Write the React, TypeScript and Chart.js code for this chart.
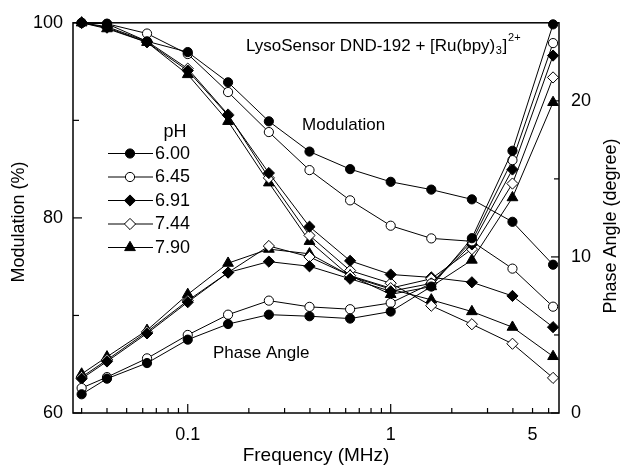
import React, { useEffect, useRef } from 'react';
import { Chart, registerables } from 'chart.js';
import { drawPoint } from 'chart.js/helpers';

Chart.register(...registerables);

// Frequency (MHz)
const frequencies = [0.03, 0.04, 0.063, 0.1, 0.158, 0.251, 0.398, 0.631, 1.0, 1.585, 2.512, 3.981, 6.31];
const phLabels = ['6.00', '6.45', '6.91', '7.44', '7.90'];

// Modulation (%)
const mod600 = [100, 99.9, 98.1, 97.0, 93.9, 89.9, 86.8, 85.0, 83.7, 82.9, 81.9, 79.6, 75.2];
const mod645 = [100, 99.9, 98.9, 96.8, 92.9, 88.8, 84.9, 81.8, 79.2, 77.9, 77.6, 74.8, 70.9];
const mod691 = [100, 99.5, 98.0, 95.1, 90.5, 84.6, 79.1, 75.6, 74.2, 73.9, 73.4, 72.0, 68.8];
const mod744 = [100, 99.6, 98.1, 95.3, 90.6, 84.1, 78.2, 74.6, 73.3, 71.0, 69.1, 67.1, 63.6];
const mod790 = [100, 99.4, 98.0, 94.7, 89.9, 83.6, 77.6, 74.0, 72.7, 71.6, 70.4, 68.8, 65.8];

// Phase angle (degree)
const ph600 = [1.2, 2.2, 3.2, 4.7, 5.7, 6.3, 6.2, 6.05, 6.5, 8.1, 11.2, 16.8, 24.9];
const ph645 = [1.6, 2.3, 3.5, 5.0, 6.3, 7.2, 6.8, 6.65, 7.05, 8.3, 11.0, 16.2, 23.7];
const ph691 = [2.2, 3.3, 5.1, 7.1, 9.0, 9.7, 9.4, 8.6, 7.8, 8.3, 10.8, 15.6, 22.9];
const ph744 = [2.3, 3.4, 5.2, 7.2, 9.0, 10.7, 10.0, 8.8, 8.0, 8.6, 10.5, 14.7, 21.5];
const ph790 = [2.5, 3.6, 5.3, 7.6, 9.6, 10.5, 10.2, 8.8, 7.6, 8.1, 9.8, 13.8, 19.9];

const modSeries = [mod600, mod645, mod691, mod744, mod790];
const phaseSeries = [ph600, ph645, ph691, ph744, ph790];

const xTickValues = [0.1, 1, 5];
const leftTickValues = [60, 80, 100];
const rightTickValues = [0, 10, 20];
const xMinorTicks = [0.03, 0.04, 0.05, 0.06, 0.07, 0.08, 0.09, 0.2, 0.3, 0.4, 0.5, 0.6, 0.7, 0.8, 0.9, 2, 3, 4, 5, 6];
const leftMinorTicks = [70, 90];
const rightMinorTicks = [5, 15, 25];

const FONT = "'Liberation Sans', Arial, Helvetica, sans-serif";

const markerStyles = [
  { pointStyle: 'circle', fill: '#000000', radius: 4.6 },
  { pointStyle: 'circle', fill: '#ffffff', radius: 4.6 },
  { pointStyle: 'rectRot', fill: '#000000', radius: 5.6 },
  { pointStyle: 'rectRot', fill: '#ffffff', radius: 5.6 },
  { pointStyle: 'triangle', fill: '#000000', radius: 6.2 },
];

function makeDataset(values: number[], idx: number, axis: string) {
  const m = markerStyles[idx];
  return {
    label: phLabels[idx],
    data: frequencies.map((f, i) => ({ x: f, y: values[i] })),
    yAxisID: axis,
    borderColor: '#000000',
    borderWidth: 1,
    pointStyle: m.pointStyle,
    pointRadius: m.radius,
    pointBackgroundColor: m.fill,
    pointBorderColor: '#000000',
    pointBorderWidth: 1,
    fill: false,
    tension: 0,
    clip: false as any,
  };
}

const overlayPlugin = {
  id: 'overlay',
  afterDraw(chart: any) {
    const ctx: CanvasRenderingContext2D = chart.ctx;
    const a = chart.chartArea;
    const sx = chart.scales.x;
    const sy = chart.scales.y;
    const sy2 = chart.scales.y2;
    ctx.save();
    ctx.strokeStyle = '#000';
    ctx.fillStyle = '#000';

    // frame
    ctx.lineWidth = 1.5;
    ctx.strokeRect(a.left, a.top, a.right - a.left, a.bottom - a.top);

    // inward ticks
    ctx.lineWidth = 1.2;
    const vline = (x: number, y0: number, y1: number) => {
      ctx.beginPath(); ctx.moveTo(x, y0); ctx.lineTo(x, y1); ctx.stroke();
    };
    const hline = (y: number, x0: number, x1: number) => {
      ctx.beginPath(); ctx.moveTo(x0, y); ctx.lineTo(x1, y); ctx.stroke();
    };
    xTickValues.filter(v => v !== 5).forEach(v => vline(sx.getPixelForValue(v), a.bottom, a.bottom - 9));
    xMinorTicks.forEach(v => vline(sx.getPixelForValue(v), a.bottom, a.bottom - 5));
    leftTickValues.forEach(v => hline(sy.getPixelForValue(v), a.left, a.left + 9));
    leftMinorTicks.forEach(v => hline(sy.getPixelForValue(v), a.left, a.left + 6));
    rightTickValues.forEach(v => hline(sy2.getPixelForValue(v), a.right, a.right - 8));
    rightMinorTicks.forEach(v => hline(sy2.getPixelForValue(v), a.right, a.right - 5));

    // axis titles
    ctx.textAlign = 'center';
    ctx.textBaseline = 'middle';
    ctx.font = `19px ${FONT}`;
    ctx.fillText('Frequency (MHz)', (a.left + a.right) / 2, 456);
    ctx.font = `18px ${FONT}`;
    ctx.save();
    ctx.translate(19, 222);
    ctx.rotate(-Math.PI / 2);
    ctx.fillText('Modulation (%)', 0, 0);
    ctx.restore();
    ctx.save();
    ctx.translate(611, 226);
    ctx.rotate(-Math.PI / 2);
    ctx.fillText('Phase Angle (degree)', 0, 0);
    ctx.restore();

    // annotations
    ctx.textAlign = 'left';
    ctx.font = `17px ${FONT}`;
    ctx.fillText('Modulation', 302, 125);
    ctx.fillText('Phase Angle', 213, 353);
    let tx = 246;
    const ty = 46;
    const main = 'LysoSensor DND-192 + [Ru(bpy)';
    ctx.fillText(main, tx, ty);
    tx += ctx.measureText(main).width;
    ctx.font = `11px ${FONT}`;
    ctx.fillText('3', tx + 0.5, ty + 5);
    tx += ctx.measureText('3').width + 1;
    ctx.font = `17px ${FONT}`;
    ctx.fillText(']', tx, ty);
    tx += ctx.measureText(']').width;
    ctx.font = `11px ${FONT}`;
    ctx.fillText('2+', tx + 1, ty - 8);

    // legend
    ctx.font = `18px ${FONT}`;
    ctx.textAlign = 'center';
    ctx.fillText('pH', 175, 132);
    ctx.textAlign = 'left';
    phLabels.forEach((lab, i) => {
      const y = 153.5 + i * 23.5;
      ctx.lineWidth = 1;
      hline(y, 108, 153);
      const m = markerStyles[i];
      ctx.fillStyle = m.fill;
      ctx.strokeStyle = '#000';
      drawPoint(ctx, { pointStyle: m.pointStyle, radius: m.radius, rotation: 0, borderWidth: 1 } as any, 130, y);
      ctx.fillStyle = '#000';
      ctx.fillText(lab, 155, y + 0.5);
    });

    ctx.restore();
  },
};

export default function App() {
  const ref = useRef<HTMLCanvasElement | null>(null);
  useEffect(() => {
    document.body.style.margin = '0';
    const canvas = ref.current;
    if (!canvas) return;
    const datasets: any[] = [];
    phaseSeries.forEach((s, i) => datasets.push(makeDataset(s, i, 'y2')));
    modSeries.forEach((s, i) => datasets.push(makeDataset(s, i, 'y')));
    const tickFont = { family: FONT, size: 18 };
    const chart = new Chart(canvas, {
      type: 'line',
      data: { datasets },
      options: {
        animation: false,
        responsive: false,
        maintainAspectRatio: false,
        layout: { padding: { top: 22, left: 0, right: 0, bottom: 0 } },
        plugins: { legend: { display: false }, tooltip: { enabled: false } },
        scales: {
          x: {
            type: 'logarithmic',
            min: 0.0272,
            max: 6.75,
            position: 'bottom',
            grid: { display: false, drawTicks: false },
            border: { display: false },
            afterBuildTicks: (s: any) => { s.ticks = xTickValues.map(v => ({ value: v })); },
            afterFit: (s: any) => { s.height = 52; },
            ticks: {
              autoSkip: false,
              maxRotation: 0,
              padding: 11,
              color: '#000',
              font: tickFont,
              callback: (v: any) => String(v),
            },
          },
          y: {
            type: 'linear',
            position: 'left',
            min: 60,
            max: 100,
            grid: { display: false, drawTicks: false },
            border: { display: false },
            afterBuildTicks: (s: any) => { s.ticks = leftTickValues.map(v => ({ value: v })); },
            afterFit: (s: any) => { s.width = 73; },
            ticks: { padding: 10, color: '#000', font: tickFont, callback: (v: any) => String(v) },
          },
          y2: {
            type: 'linear',
            position: 'right',
            min: 0,
            max: 25,
            grid: { display: false, drawTicks: false },
            border: { display: false },
            afterBuildTicks: (s: any) => { s.ticks = rightTickValues.map(v => ({ value: v })); },
            afterFit: (s: any) => { s.width = 64; },
            ticks: { padding: 12, color: '#000', font: tickFont, callback: (v: any) => String(v) },
          },
        },
      },
      plugins: [overlayPlugin],
    });
    return () => chart.destroy();
  }, []);
  return <canvas ref={ref} width={623} height={465} style={{ display: 'block' }} />;
}
